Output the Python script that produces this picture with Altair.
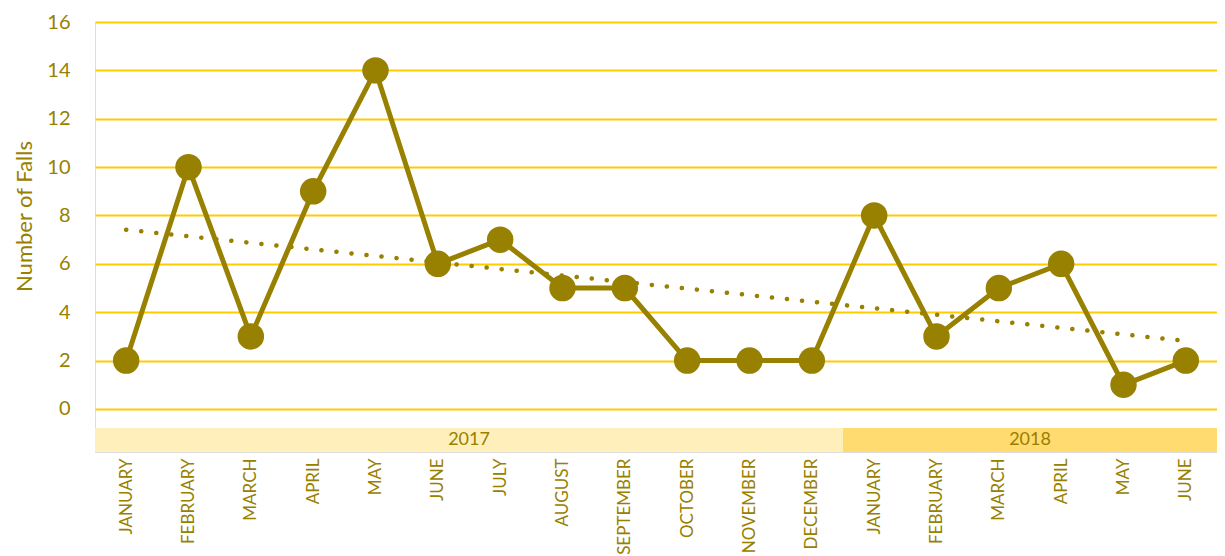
import altair as alt
import pandas as pd

months = ["JANUARY", "FEBRUARY", "MARCH", "APRIL", "MAY", "JUNE", "JULY", "AUGUST",
          "SEPTEMBER", "OCTOBER", "NOVEMBER", "DECEMBER",
          "JANUARY", "FEBRUARY", "MARCH", "APRIL", "MAY", "JUNE"]
falls = [2, 10, 3, 9, 14, 6, 7, 5, 5, 2, 2, 2, 8, 3, 5, 6, 1, 2]
years = ["2017", "2018"]
year_start = [-0.5, 11.5]
year_end = [11.5, 17.5]
year_mid = [5.5, 14.5]
year_colors = ["#FFEFBA", "#FFDB70"]
y_ticks = [0, 2, 4, 6, 8, 10, 12, 14, 16]

OLIVE = "#988000"
GRID = "#FFCC00"
FONT = "Lato"

df = pd.DataFrame({"idx": list(range(len(falls))), "month": months, "falls": falls})
yr = pd.DataFrame({"year": years, "x": year_start, "x2": year_end, "mid": year_mid,
                   "color": year_colors, "ylo": [-1.78] * 2, "yhi": [-0.785] * 2,
                   "ytext": [-1.28] * 2})

label_js = "[" + ",".join(f"'{m}'" for m in months) + "]"

xscale = alt.Scale(domain=[-0.5, 17.5], nice=False, zero=False)
yscale = alt.Scale(domain=[-1.78, 16], nice=False, zero=False)

xaxis = alt.Axis(values=list(range(len(months))), labelExpr=f"{label_js}[datum.value]",
                 labelAngle=-90, labelFontSize=17, labelColor=OLIVE, labelFont=FONT,
                 labelPadding=6, domain=False, ticks=False, grid=False, title=None)
yaxis = alt.Axis(values=y_ticks, labelFontSize=20, labelColor=OLIVE, labelFont=FONT,
                 labelPadding=25, domain=False, ticks=False, grid=True, gridColor=GRID,
                 gridWidth=2, title="Number of Falls", titleFontSize=22, titleColor=OLIVE,
                 titleFont=FONT, titleFontWeight="normal", titlePadding=10, titleY=194)

base = alt.Chart(df)

bands = alt.Chart(yr).mark_rect().encode(
    x=alt.X("x:Q", scale=xscale, axis=xaxis),
    x2="x2:Q",
    y=alt.Y("ylo:Q", scale=yscale, axis=yaxis),
    y2="yhi:Q",
    color=alt.Color("color:N", scale=None),
)
band_text = alt.Chart(yr).mark_text(fontSize=18, font=FONT, color=OLIVE, baseline="middle").encode(
    x=alt.X("mid:Q", scale=xscale),
    y=alt.Y("ytext:Q", scale=yscale),
    text="year:N",
)

trend = base.transform_regression("idx", "falls").mark_line(
    color=OLIVE, strokeWidth=4.5, strokeDash=[0.1, 15], strokeCap="round"
).encode(x=alt.X("idx:Q", scale=xscale), y=alt.Y("falls:Q", scale=yscale))

line = base.mark_line(color=OLIVE, strokeWidth=5).encode(
    x=alt.X("idx:Q", scale=xscale), y=alt.Y("falls:Q", scale=yscale))
pts = base.mark_circle(color=OLIVE, opacity=1, size=700).encode(
    x=alt.X("idx:Q", scale=xscale), y=alt.Y("falls:Q", scale=yscale))

chart = alt.layer(bands, band_text, trend, line, pts).properties(
    width=1122, height=430,
    padding={"left": 5, "top": 4, "right": 0, "bottom": 0},
).configure_view(stroke="transparent", strokeWidth=0).configure_axis(
    domain=False, ticks=False, grid=False
).configure_axisY(grid=True, gridColor=GRID, gridWidth=2).configure(background="white")

chart.save("out.html", embed_options={"renderer": "svg", "actions": False})
